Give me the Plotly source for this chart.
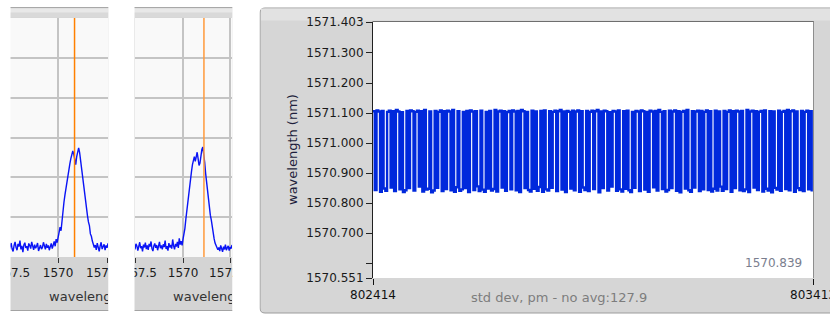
import plotly.graph_objects as go

W, H = 830, 314

# ---------------- data ----------------
# optical spectra (two snapshots), arbitrary power units, sampled every 0.05 nm
spec_start_nm = 1567.40
spec_step_nm = 0.05
spectrum_low = [
    0.22, 0.31, 0.18, 0.27, 0.35, 0.20, 0.14, 0.29, 0.38, 0.24, 0.17, 0.33, 0.26,
    0.41, 0.19, 0.28, 0.12, 0.30, 0.36, 0.23, 0.27, 0.16, 0.34, 0.29, 0.21, 0.38,
    0.25, 0.18, 0.31, 0.22, 0.27, 0.35, 0.15, 0.26, 0.30, 0.20, 0.24, 0.37, 0.28,
    0.19, 0.33, 0.23, 0.29, 0.17, 0.26, 0.34, 0.21, 0.30, 0.39, 0.27, 0.45, 0.36,
    0.48, 0.62, 0.75, 0.66, 0.98, 1.22, 1.38, 1.56, 1.72, 1.96, 2.05, 2.22, 2.34,
    2.47, 2.55, 2.66, 2.58, 2.44, 2.32, 2.52, 2.66, 2.74, 2.62, 2.41, 2.17, 2.02,
    1.76, 1.55, 1.41, 1.18, 1.04, 0.88, 0.79, 0.58, 0.52, 0.40, 0.33, 0.24,
    0.30, 0.18, 0.35, 0.22, 0.14, 0.28, 0.37, 0.20, 0.26, 0.32, 0.17, 0.29, 0.23,
    0.34, 0.21,
]
spectrum_high = [
    0.25, 0.19, 0.33, 0.28, 0.16, 0.30, 0.37, 0.22, 0.27, 0.14, 0.31, 0.24, 0.36,
    0.20, 0.29, 0.18, 0.33, 0.26, 0.39, 0.21, 0.15, 0.28, 0.34, 0.23, 0.30, 0.17,
    0.26, 0.38, 0.22, 0.29, 0.19, 0.32, 0.25, 0.41, 0.20, 0.27, 0.16, 0.35, 0.24,
    0.30, 0.21, 0.44, 0.28, 0.19, 0.33, 0.26, 0.38, 0.23, 0.47, 0.31, 0.40, 0.29,
    0.45, 0.58, 0.72, 0.95, 1.18, 1.36, 1.62, 1.85, 1.98, 2.15, 2.32, 2.44, 2.52,
    2.40, 2.58, 2.63, 2.47, 2.30, 2.36, 2.58, 2.70, 2.76, 2.60, 2.38, 2.10, 1.86,
    1.62, 1.43, 1.25, 1.05, 0.93, 0.74, 0.55, 0.46, 0.35, 0.28, 0.22, 0.18,
    0.24, 0.15, 0.29, 0.20, 0.13, 0.26, 0.19, 0.31, 0.17, 0.23, 0.28, 0.16, 0.25,
    0.21, 0.30,
]
cursor_low_nm = 1570.84
cursor_high_nm = 1571.11
spec_ticks = [1567.5, 1570.0, 1572.5]
spec_tick_text = ["1567.5", "1570", "1572.5"]
spec_axis_title = "wavelength (nm)"
spec_title_start_low = 1569.54
spec_title_start_high = 1569.47

# peak-wavelength trace, one reading every 4th sample
sample_first = 802414
sample_last = 803413
sample_step = 4
wavelength_nm = [
    1571.106, 1570.844, 1571.109, 1571.105, 1570.838, 1571.107, 1570.849, 1570.841, 1571.104, 1571.108,
    1570.852, 1571.106, 1570.840, 1571.110, 1571.105, 1570.846, 1571.103, 1570.837, 1570.843, 1571.107,
    1570.850, 1571.109, 1571.106, 1570.842, 1571.104, 1571.108, 1570.855, 1571.106, 1570.839, 1571.110,
    1570.845, 1570.848, 1571.105, 1570.836, 1570.842, 1571.107, 1570.851, 1571.104, 1571.109, 1570.840,
    1571.106, 1570.847, 1571.108, 1571.105, 1570.843, 1571.110, 1570.838, 1570.853, 1571.106, 1570.841,
    1570.846, 1571.104, 1570.850, 1571.107, 1570.837, 1571.109, 1571.105, 1570.844, 1571.106, 1570.856,
    1570.840, 1571.108, 1570.845, 1570.838, 1571.104, 1570.849, 1571.107, 1570.842, 1570.847, 1571.110,
    1570.839, 1571.105, 1571.108, 1570.852, 1571.106, 1570.841, 1571.103, 1571.107, 1570.846, 1571.109,
    1571.105, 1570.843, 1571.107, 1570.837, 1571.110, 1571.106, 1570.850, 1571.104, 1570.844, 1570.839,
    1571.108, 1570.848, 1571.105, 1570.841, 1570.854, 1571.107, 1570.838, 1571.109, 1570.846, 1570.842,
    1571.106, 1570.851, 1571.104, 1571.108, 1570.840, 1571.106, 1571.110, 1570.845, 1571.105, 1570.837,
    1571.107, 1571.104, 1570.849, 1571.108, 1570.843, 1571.105, 1571.109, 1570.838, 1571.106, 1570.852,
    1570.844, 1571.107, 1570.840, 1571.104, 1571.108, 1570.847, 1571.106, 1571.110, 1570.836, 1571.105,
    1570.850, 1571.108, 1571.106, 1570.842, 1571.103, 1570.855, 1571.107, 1571.105, 1570.841, 1571.109,
    1570.846, 1570.839, 1571.106, 1570.848, 1571.108, 1570.843, 1570.837, 1571.104, 1570.851, 1571.107,
    1571.105, 1570.840, 1571.109, 1571.106, 1570.845, 1571.104, 1570.838, 1571.108, 1571.105, 1570.853,
    1571.107, 1570.842, 1571.110, 1571.104, 1570.847, 1571.106, 1570.839, 1570.844, 1571.108, 1570.850,
    1571.105, 1571.109, 1570.841, 1571.106, 1570.836, 1571.104, 1571.107, 1570.849, 1571.110, 1570.843,
    1570.838, 1571.106, 1570.852, 1571.105, 1571.108, 1570.840, 1571.107, 1570.846, 1571.104, 1571.109,
    1570.844, 1571.106, 1570.839, 1570.848, 1571.108, 1570.842, 1571.105, 1570.855, 1570.841, 1571.107,
    1570.847, 1571.104, 1571.109, 1570.838, 1571.106, 1570.850, 1571.108, 1571.105, 1570.843, 1571.107,
    1570.840, 1570.846, 1571.110, 1570.837, 1571.105, 1571.108, 1570.852, 1571.106, 1570.844, 1571.104,
    1571.107, 1570.839, 1571.109, 1570.848, 1570.842, 1571.106, 1570.836, 1571.105, 1570.851, 1570.845,
    1571.108, 1570.841, 1571.104, 1571.107, 1570.847, 1571.110, 1570.843, 1571.106, 1571.109, 1570.838,
    1571.105, 1570.850, 1570.844, 1571.107, 1570.840, 1571.104, 1571.108, 1570.846, 1571.106, 1570.839,
]
y_range_nm = [1570.551, 1571.403]
y_ticks_nm = [1570.551, 1570.600, 1570.700, 1570.800, 1570.900, 1571.000,
              1571.100, 1571.200, 1571.300, 1571.403]
y_tick_text = ["1570.551", "", "1570.700", "1570.800", "1570.900", "1571.000",
               "1571.100", "1571.200", "1571.300", "1571.403"]
x_ticks = [sample_first, sample_last]
main_axis_title = "wavelength (nm)"
std_dev_label = "std dev, pm - no avg:"
std_dev_pm = 127.9
current_nm = 1570.839

# ---------------- helpers ----------------
FONT = "DejaVu Sans"


def fx(p):
    return p / W


def fy(p):
    return 1 - p / H


spec_x = [round(spec_start_nm + i * spec_step_nm, 3) for i in range(len(spectrum_low))]
samples = [sample_first + i * sample_step for i in range(len(wavelength_nm))]

fig = go.Figure()

# spectra
fig.add_trace(go.Scatter(x=spec_x, y=spectrum_low, mode="lines",
                         line=dict(color="#0a14f5", width=1.4),
                         xaxis="x", yaxis="y", hoverinfo="skip", showlegend=False))
fig.add_trace(go.Scatter(x=spec_x, y=spectrum_high, mode="lines",
                         line=dict(color="#0a14f5", width=1.4),
                         xaxis="x2", yaxis="y2", hoverinfo="skip", showlegend=False))
# main trace
fig.add_trace(go.Scatter(x=samples, y=wavelength_nm, mode="lines",
                         line=dict(color="#0028dc", width=2.4, shape="hv"),
                         xaxis="x3", yaxis="y3", hoverinfo="skip", showlegend=False))
# clipped axis titles of the cropped spectrum panels
fig.add_trace(go.Scatter(x=[spec_title_start_low], y=[0.5], mode="text",
                         text=[spec_axis_title], textposition="middle right",
                         textfont=dict(family=FONT, size=13, color="#333333"),
                         cliponaxis=True, xaxis="x4", yaxis="y4",
                         hoverinfo="skip", showlegend=False))
fig.add_trace(go.Scatter(x=[spec_title_start_high], y=[0.5], mode="text",
                         text=[spec_axis_title], textposition="middle right",
                         textfont=dict(family=FONT, size=13, color="#333333"),
                         cliponaxis=True, xaxis="x5", yaxis="y5",
                         hoverinfo="skip", showlegend=False))

spec_x_common = dict(
    tickvals=spec_ticks, ticktext=spec_tick_text,
    ticks="outside", ticklen=5, tickcolor="#333333", tickwidth=1,
    tickfont=dict(family=FONT, size=12, color="#1a1a1a"),
    showgrid=True, gridcolor="#c4c4c4", gridwidth=1.5,
    zeroline=False, showline=False, ticklabeloverflow="allow", automargin=False,
)
spec_y_common = dict(
    range=[0, 6], tick0=0, dtick=1, showticklabels=False, ticks="",
    showgrid=True, gridcolor="#c4c4c4", gridwidth=1.5, zeroline=False, showline=False,
    automargin=False,
)
hidden = dict(visible=False, showgrid=False, zeroline=False, automargin=False)

fig.update_layout(
    template="none",
    width=W, height=H, autosize=False,
    margin=dict(l=0, r=0, t=0, b=0, pad=0),
    paper_bgcolor="white", plot_bgcolor="white",
    font=dict(family=FONT),
    xaxis=dict(domain=[fx(9), fx(108)], range=[1567.49, 1572.55], anchor="y", **spec_x_common),
    yaxis=dict(domain=[fy(257), fy(18)], anchor="x", **spec_y_common),
    xaxis2=dict(domain=[fx(135), fx(232)], range=[1567.45, 1572.6], anchor="y2", **spec_x_common),
    yaxis2=dict(domain=[fy(257), fy(18)], anchor="x2", **spec_y_common),
    xaxis3=dict(domain=[fx(373), fx(813)], range=[sample_first, sample_last], anchor="y3",
                tickvals=x_ticks, tickformat="d", ticks="outside", ticklen=6, tickwidth=1,
                tickcolor="#111111",
                tickfont=dict(family=FONT, size=12, color="#111111"),
                showgrid=False, zeroline=False, showline=False, ticklabeloverflow="allow",
                automargin=False),
    yaxis3=dict(domain=[fy(278), fy(22)], range=y_range_nm, anchor="x3",
                tickvals=y_ticks_nm, ticktext=y_tick_text,
                ticks="outside", ticklen=6, tickwidth=1, tickcolor="#222222",
                tickfont=dict(family=FONT, size=12, color="#1a1a1a"),
                showgrid=False, zeroline=False, showline=True, linecolor="#202020", linewidth=1,
                automargin=False),
    xaxis4=dict(domain=[fx(9), fx(108)], range=[1567.49, 1572.55], anchor="y4", **hidden),
    yaxis4=dict(domain=[fy(311), fy(284)], range=[0, 1], anchor="x4", **hidden),
    xaxis5=dict(domain=[fx(135), fx(232)], range=[1567.45, 1572.6], anchor="y5", **hidden),
    yaxis5=dict(domain=[fy(311), fy(284)], range=[0, 1], anchor="x5", **hidden),
)

shapes = []


def prect(x0, y0, x1, y1, fill, layer="below", line=None):
    d = dict(type="rect", xref="paper", yref="paper",
             x0=fx(x0), x1=fx(x1), y0=fy(y1), y1=fy(y0),
             fillcolor=fill, layer=layer, line=dict(width=0))
    if line:
        d["line"] = line
    return d


def pline(x0, y0, x1, y1, color, width=1, layer="below"):
    return dict(type="line", xref="paper", yref="paper",
                x0=fx(x0), x1=fx(x1), y0=fy(y0), y1=fy(y1),
                line=dict(color=color, width=width), layer=layer)


# left spectrum panels: gray frames
for (a, b, xr, yr) in [(9, 108.5, "x", "y"), (134, 232.5, "x2", "y2")]:
    shapes.append(prect(a, 7, b, 311, "#d4d4d4"))
    shapes.append(prect(a, 7, b, 17.5, "#d9d9d9"))
    shapes.append(prect(a, 8.5, b, 12.5, "#e8e8e8"))
    shapes.append(pline(a, 7.5, b, 7.5, "#a8a8a8"))
    shapes.append(pline(a, 310.5, b, 310.5, "#a3a3a3"))
    shapes.append(dict(type="rect", xref=xr + " domain", yref=yr + " domain",
                       x0=0, x1=1, y0=0, y1=1, fillcolor="#f9f9f9",
                       line=dict(width=0), layer="below"))

# main panel rounded frame
r = 5
path = (f"M {fx(260)},{fy(8 + r)} Q {fx(260)},{fy(8)} {fx(260 + r)},{fy(8)} "
        f"L {fx(840)},{fy(8)} L {fx(840)},{fy(313)} L {fx(260 + r)},{fy(313)} "
        f"Q {fx(260)},{fy(313)} {fx(260)},{fy(313 - r)} Z")
shapes.append(dict(type="path", xref="paper", yref="paper", path=path,
                   fillcolor="#d6d6d6", line=dict(color="#9c9c9c", width=1), layer="below"))
shapes.append(prect(261, 8.5, 840, 20.5, "#e2e2e2"))
shapes.append(dict(type="rect", xref="x3 domain", yref="y3 domain",
                   x0=0, x1=1, y0=0, y1=1, fillcolor="white",
                   line=dict(width=0), layer="below"))
shapes.append(pline(372.5, 21.5, 814, 21.5, "#6e6e6e"))
shapes.append(pline(813.5, 21.5, 813.5, 278, "#8e8e8e"))

# cursors on the spectra
shapes.append(dict(type="line", xref="x", yref="y domain", x0=cursor_low_nm, x1=cursor_low_nm,
                   y0=0, y1=1, line=dict(color="#ff8000", width=1.5), layer="above"))
shapes.append(dict(type="line", xref="x2", yref="y2 domain", x0=cursor_high_nm, x1=cursor_high_nm,
                   y0=0, y1=1, line=dict(color="#ff9a3c", width=1.5), layer="above"))

# white gaps between the cropped panels (clip tick labels)
shapes.append(prect(-5, -5, 10.5, 320, "white", layer="above"))
shapes.append(prect(108.5, -5, 134.5, 320, "white", layer="above"))
shapes.append(prect(232.5, -5, 259.5, 320, "white", layer="above"))

fig.update_layout(shapes=shapes)

fig.add_annotation(x=fx(292), y=fy(150), xref="paper", yref="paper",
                   text=main_axis_title, textangle=-90, showarrow=False,
                   xanchor="center", yanchor="middle",
                   font=dict(family=FONT, size=13, color="#1e1e3c"))
fig.add_annotation(x=fx(469), y=fy(297), xref="paper", yref="paper",
                   text=f"{std_dev_label}{std_dev_pm}", showarrow=False,
                   xanchor="left", yanchor="middle",
                   font=dict(family=FONT, size=13, color="#7d7d7d"))
fig.add_annotation(x=fx(804), y=fy(263), xref="paper", yref="paper",
                   text=f"{current_nm:.3f}", showarrow=False,
                   xanchor="right", yanchor="middle",
                   font=dict(family=FONT, size=12, color="#7a7e8e"))

fig.write_html("out.html", config={"displayModeBar": False},
               post_script="document.body.style.margin='0';document.body.style.overflow='hidden';")
